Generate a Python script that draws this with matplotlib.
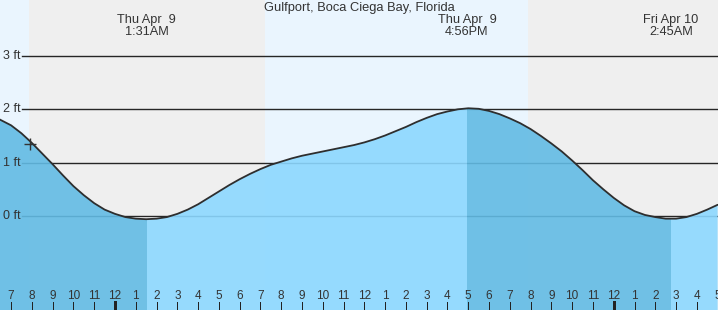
import matplotlib
matplotlib.use("Agg")
import matplotlib.pyplot as plt
from matplotlib.patches import Rectangle
from matplotlib.transforms import blended_transform_factory
import numpy as np

plt.rcParams['font.family'] = ['Liberation Sans', 'DejaVu Sans']

# ---- data (hours measured from Thu Apr 9, 00:00) ----
tide_hours = [-5.6] + [-5.5 + 0.5 * i for i in range(70)]
tide_ft = [1.82,
           1.80, 1.70, 1.55, 1.37, 1.17, 0.97, 0.76, 0.56, 0.39, 0.24,
           0.12, 0.04, -0.02, -0.05, -0.06, -0.05, -0.02, 0.04, 0.12, 0.22,
           0.34, 0.46, 0.58, 0.69, 0.79, 0.88, 0.96, 1.02, 1.08, 1.13,
           1.17, 1.21, 1.25, 1.29, 1.33, 1.38, 1.44, 1.51, 1.59, 1.67,
           1.76, 1.84, 1.91, 1.96, 2.00, 2.02, 2.01, 1.97, 1.91, 1.83,
           1.74, 1.63, 1.50, 1.36, 1.21, 1.04, 0.86, 0.67, 0.50, 0.34,
           0.20, 0.09, 0.02, -0.02, -0.05, -0.05, -0.02, 0.04, 0.12, 0.21]

title = "Gulfport, Boca Ciega Bay, Florida"
event_hours = [1 + 31 / 60, 16 + 56 / 60, 26 + 45 / 60]   # low, high, low
event_dates = ["Thu Apr  9", "Thu Apr  9", "Fri Apr 10"]
event_times = ["1:31AM", "4:56PM", "2:45AM"]

sunset_1 = -4.14
sunrise_2 = 7.22
sunset_2 = 19.87

now_hour = -4.09
now_ft = 1.35

y_ticks = [0, 1, 2, 3]
y_labels = ["0 ft", "1 ft", "2 ft", "3 ft"]

hour_ticks = list(range(-5, 30))
hour_labels = [str((h % 12) or 12) for h in hour_ticks]
midnights = [0, 24]

# ---- styling ----
W, H = 718, 310
X_LEFT, X_RIGHT = -5.534, 29.018
Y_BOT, Y_TOP = -1.7625, 4.05
c_night = '#efefef'
c_day = '#eaf5fe'
c_light = '#8cd8ff'
c_dark = '#62bbe4'
c_text = '#333333'

fig = plt.figure(figsize=(W / 100, H / 100), dpi=100)
ax = fig.add_axes([0, 0, 1, 1])
ax.set_xlim(X_LEFT, X_RIGHT)
ax.set_ylim(Y_BOT, Y_TOP)
ax.set_axis_off()

# background day / night
ax.axvspan(X_LEFT, sunset_1, color=c_day, lw=0, zorder=0)
ax.axvspan(sunset_1, sunrise_2, color=c_night, lw=0, zorder=0)
ax.axvspan(sunrise_2, sunset_2, color=c_day, lw=0, zorder=0)
ax.axvspan(sunset_2, X_RIGHT, color=c_night, lw=0, zorder=0)

h = np.array(tide_hours)
y = np.array(tide_ft)

# white area between curve and 0 ft where the tide dips below datum
ax.fill_between(h, y, 0, where=y < 0, interpolate=True, color='white', lw=0, zorder=1)

# grid lines
for yt, lab in zip(y_ticks, y_labels):
    ax.axhline(yt, xmin=21.5 / W, xmax=1, color='#262626', lw=1.0, zorder=2)
    ax.text(3 / W, yt, lab, transform=blended_transform_factory(ax.transAxes, ax.transData),
            ha='left', va='center', fontsize=9, color=c_text, zorder=6)

# water fills: dark while falling, light while rising
segments = [(X_LEFT - 1, event_hours[0], c_dark),
            (event_hours[0], event_hours[1], c_light),
            (event_hours[1], event_hours[2], c_dark),
            (event_hours[2], X_RIGHT + 1, c_light)]
for x0, x1, col in segments:
    poly = ax.fill_between(h, y, Y_BOT - 1, color=col, alpha=0.9, lw=0, zorder=3)
    rect = Rectangle((x0, Y_BOT - 1), x1 - x0, 10, transform=ax.transData)
    poly.set_clip_path(rect)

# tide curve
ax.plot(h, y, color='#2e2e2e', lw=1.3, zorder=4, solid_capstyle='round',
        solid_joinstyle='round')

# current time marker
ax.plot([now_hour], [now_ft], marker='+', markersize=8, mew=1.0, color='#333333', zorder=5)

# title & event labels
ax.text(0.5, 1 - 8 / H, title, transform=ax.transAxes, ha='center', va='center',
        fontsize=9.3, color=c_text)
tr = blended_transform_factory(ax.transData, ax.transAxes)
for eh, d, t in zip(event_hours, event_dates, event_times):
    ax.text(eh, 1 - 20 / H, d, transform=tr, ha='center', va='center', fontsize=9.2, color=c_text)
    ax.text(eh, 1 - 32 / H, t, transform=tr, ha='center', va='center', fontsize=9.2, color=c_text)

# hour ticks
for ht, lab in zip(hour_ticks, hour_labels):
    lw = 3 if ht in midnights else 1
    ax.axvline(ht, ymin=0, ymax=8 / H, color='#222222', lw=lw * 0.72, zorder=5)
    ax.text(ht, 14 / H, lab, transform=tr, ha='center', va='center', fontsize=8.5,
            color=c_text, zorder=6)

fig.savefig("out.png", dpi=100)
